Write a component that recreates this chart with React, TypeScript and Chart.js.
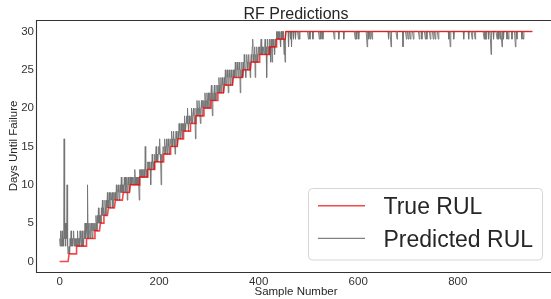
import React, { useEffect, useRef } from "react";
import { Chart, registerables } from "chart.js";

Chart.register(...registerables);

const titleText = "RF Predictions";
const xLabel = "Sample Number";
const yLabel = "Days Until Failure";
const legendLabels = ["True RUL", "Predicted RUL"];
const xTickValues = [0, 200, 400, 600, 800];
const yTickValues = [0, 5, 10, 15, 20, 25, 30];

// number of samples for each true RUL value 0..30 (sorted by RUL)
const trueRulCounts = [19, 15, 20, 17, 11, 7, 9, 14, 16, 14, 19, 16, 14, 18, 14, 15, 11, 14, 11, 16, 14, 14, 13, 18, 20, 16, 17, 20, 14, 19, 496];

// predicted RUL for the rising part, grouped by true RUL value
const predictedRising: number[][] = [
  [3, 2, 4, 2, 3, 4, 2, 3, 2, 16, 3, 5, 2, 5, 3, 10, 2, 1, 1],
  [2, 1, 3, 2, 4, 2, 3, 2, 3, 4, 2, 3, 2, 3, 2],
  [3, 2, 4, 2, 3, 3, 2, 4, 3, 2, 3, 4, 2, 3, 2, 4, 3, 5, 3, 5],
  [4, 3, 10, 4, 5, 3, 4, 5, 3, 4, 5, 4, 3, 5, 4, 5, 4],
  [5, 4, 6, 5, 4, 6, 5, 7, 5, 6, 5],
  [6, 5, 7, 6, 8, 6, 7],
  [7, 6, 8, 7, 6, 8, 7, 9, 7],
  [8, 7, 9, 8, 7, 9, 8, 8, 9, 7, 8, 9, 8, 9],
  [9, 8, 10, 9, 8, 9, 10, 9, 8, 9, 10, 9, 11, 9, 10, 9],
  [10, 9, 11, 10, 11, 9, 10, 11, 8, 10, 11, 10, 9, 11],
  [11, 10, 11, 10, 11, 11, 10, 11, 10, 12, 11, 10, 11, 10, 11, 10, 11, 10, 8],
  [12, 11, 12, 11, 12, 11, 12, 11, 12, 12, 11, 15, 12, 11, 12, 11],
  [13, 12, 13, 12, 13, 12, 10, 13, 12, 14, 13, 12, 13, 12],
  [14, 13, 14, 15, 13, 14, 13, 14, 15, 14, 16, 14, 13, 10, 14, 13, 14, 15],
  [15, 14, 16, 15, 14, 15, 16, 14, 15, 16, 15, 14, 15, 16],
  [16, 15, 17, 16, 15, 16, 17, 15, 16, 14, 16, 17, 16, 15, 16],
  [17, 16, 18, 17, 16, 17, 18, 17, 16, 18, 17],
  [18, 17, 19, 18, 17, 18, 19, 18, 20, 18, 17, 19, 18, 19],
  [19, 18, 20, 19, 18, 19, 20, 19, 18, 19, 16],
  [20, 19, 21, 20, 19, 20, 21, 20, 19, 18, 20, 21, 20, 19, 21, 20],
  [21, 20, 22, 21, 20, 21, 22, 21, 20, 22, 21, 20, 22, 21],
  [22, 23, 21, 19, 22, 21, 22, 23, 21, 22, 21, 22, 23, 22],
  [23, 22, 24, 23, 22, 23, 24, 22, 23, 24, 23, 22, 23],
  [24, 23, 25, 24, 23, 24, 25, 24, 22, 24, 25, 24, 23, 24, 25, 24, 23, 24],
  [25, 24, 25, 24, 26, 25, 24, 25, 26, 25, 24, 25, 26, 25, 22, 25, 24, 26, 25, 24],
  [26, 25, 27, 26, 25, 24, 26, 27, 26, 25, 26, 27, 25, 26, 24, 26],
  [27, 26, 28, 29, 27, 26, 27, 28, 24, 27, 26, 28, 27, 26, 27, 28, 27],
  [28, 27, 28, 29, 27, 28, 27, 28, 28, 27, 28, 29, 27, 28, 24, 28, 29, 27, 28, 27],
  [29, 28, 26, 29, 28, 26, 29, 28, 29, 28, 27, 29, 28, 29],
  [30, 29, 30, 29, 30, 29, 30, 29, 28, 30, 29, 30, 29, 30, 29, 27, 29, 26, 30],
];

// plateau: predictions stay at 30 except these [sample, value] dips
const plateauValue = 30;
const plateauDips: [number, number][] = [
  [460, 28], [464, 29], [466, 28], [470, 29], [474, 29], [480, 29], [482, 29],
  [500, 29], [503, 29], [509, 29], [522, 29], [525, 29], [529, 29], [552, 29],
  [561, 29], [571, 29], [594, 29], [597, 29], [601, 29], [618, 28], [621, 29],
  [624, 29], [628, 29], [661, 29], [666, 28], [678, 29], [690, 28], [697, 29],
  [701, 29], [705, 29], [711, 29], [723, 29], [728, 29], [735, 29], [738, 29],
  [745, 29], [751, 29], [755, 29], [761, 29], [782, 29], [785, 28], [792, 29],
  [812, 29], [822, 29], [829, 29], [835, 29], [853, 29], [855, 29], [857, 29],
  [862, 29], [867, 27], [872, 29], [879, 29], [882, 29], [885, 29], [889, 28],
  [892, 29], [899, 29], [902, 29], [909, 29], [916, 28], [919, 29], [929, 29],
  [932, 29],
];

const trueRUL: number[] = trueRulCounts.flatMap((c, v) => Array(c).fill(v));
const risingFlat = predictedRising.flat();
const predicted: number[] = trueRUL.map((_, i) => (i < risingFlat.length ? risingFlat[i] : plateauValue));
for (const [i, v] of plateauDips) predicted[i] = v;

const N = trueRUL.length;
const xMargin = (N - 1) * 0.05;

const FONT = "'Liberation Sans', Arial, sans-serif";
const TEXT = "#262626";
const RED = "rgba(240,0,0,0.72)";
const GRAY = "rgba(115,115,115,0.9)";

const decorPlugin = {
  id: "decor",
  afterDraw(chart: any) {
    const { ctx, chartArea: a } = chart;
    ctx.save();
    // frame (spines)
    ctx.strokeStyle = "#333333";
    ctx.lineWidth = 1.1;
    ctx.beginPath();
    ctx.moveTo(a.right + 2, a.top + 0.5);
    ctx.lineTo(a.left + 0.5, a.top + 0.5);
    ctx.lineTo(a.left + 0.5, a.bottom - 0.5);
    ctx.lineTo(a.right + 2, a.bottom - 0.5);
    ctx.stroke();

    // title
    ctx.fillStyle = TEXT;
    ctx.textAlign = "center";
    ctx.textBaseline = "alphabetic";
    ctx.font = `16px ${FONT}`;
    ctx.fillText(titleText, 296, 18.5);

    // axis labels
    ctx.font = `11.5px ${FONT}`;
    ctx.fillText(xLabel, 296, 295);
    ctx.save();
    ctx.translate(17, 146);
    ctx.rotate(-Math.PI / 2);
    ctx.fillText(yLabel, 0, 0);
    ctx.restore();

    // legend
    const lx = 308.5, ly = 188.5, lw = 234, lh = 71.5, r = 4;
    ctx.beginPath();
    ctx.moveTo(lx + r, ly);
    ctx.lineTo(lx + lw - r, ly);
    ctx.quadraticCurveTo(lx + lw, ly, lx + lw, ly + r);
    ctx.lineTo(lx + lw, ly + lh - r);
    ctx.quadraticCurveTo(lx + lw, ly + lh, lx + lw - r, ly + lh);
    ctx.lineTo(lx + r, ly + lh);
    ctx.quadraticCurveTo(lx, ly + lh, lx, ly + lh - r);
    ctx.lineTo(lx, ly + r);
    ctx.quadraticCurveTo(lx, ly, lx + r, ly);
    ctx.closePath();
    ctx.fillStyle = "rgba(255,255,255,0.8)";
    ctx.fill();
    ctx.strokeStyle = "#d6d6d6";
    ctx.lineWidth = 1;
    ctx.stroke();

    const rows = [
      { y: 205.7, color: RED, width: 1.6 },
      { y: 238.3, color: GRAY, width: 1.2 },
    ];
    rows.forEach((row, i) => {
      ctx.strokeStyle = row.color;
      ctx.lineWidth = row.width;
      ctx.beginPath();
      ctx.moveTo(318, row.y);
      ctx.lineTo(365, row.y);
      ctx.stroke();
      ctx.fillStyle = TEXT;
      ctx.textAlign = "left";
      ctx.textBaseline = "alphabetic";
      ctx.font = `23px ${FONT}`;
      ctx.fillText(legendLabels[i], 383.5, row.y + 8.2);
    });
    ctx.restore();
  },
};

export default function App() {
  const canvasRef = useRef<HTMLCanvasElement | null>(null);

  useEffect(() => {
    document.body.style.margin = "0";
    const canvas = canvasRef.current;
    if (!canvas) return;
    const chart = new Chart(canvas, {
      type: "line",
      data: {
        datasets: [
          {
            label: legendLabels[0],
            data: trueRUL.map((v, i) => ({ x: i, y: v })),
            borderColor: RED,
            borderWidth: 1.6,
            pointRadius: 0,
            tension: 0,
            order: 0,
          },
          {
            label: legendLabels[1],
            data: predicted.map((v, i) => ({ x: i, y: v })),
            borderColor: GRAY,
            borderWidth: 1,
            pointRadius: 0,
            tension: 0,
            order: 1,
          },
        ],
      },
      options: {
        animation: false,
        responsive: false,
        events: [],
        layout: { padding: { top: 20, left: 0, right: 0, bottom: 0 } },
        plugins: { legend: { display: false }, tooltip: { enabled: false }, title: { display: false } },
        scales: {
          x: {
            type: "linear",
            min: -xMargin,
            max: N - 1 + xMargin,
            grid: { display: false, drawTicks: false },
            border: { display: false },
            afterBuildTicks: (s: any) => {
              s.ticks = xTickValues.map((v) => ({ value: v }));
            },
            afterFit: (s: any) => {
              s.height = 26;
            },
            ticks: {
              autoSkip: false,
              maxRotation: 0,
              padding: 2,
              color: "#333333",
              font: { family: FONT, size: 11.5 },
              callback: (v: any) => String(v),
            },
          },
          y: {
            type: "linear",
            min: -1.5,
            max: 31.5,
            grid: { display: false, drawTicks: false },
            border: { display: false },
            afterBuildTicks: (s: any) => {
              s.ticks = yTickValues.map((v) => ({ value: v }));
            },
            afterFit: (s: any) => {
              s.width = 36;
            },
            ticks: {
              autoSkip: false,
              padding: 2,
              color: "#333333",
              font: { family: FONT, size: 11.5 },
              callback: (v: any) => String(v),
            },
          },
        },
      },
      plugins: [decorPlugin],
    });
    return () => chart.destroy();
  }, []);

  return (
    <div style={{ position: "fixed", left: 0, top: 0, width: 551, height: 299, overflow: "hidden", background: "#fff" }}>
      <canvas ref={canvasRef} width={556} height={299} style={{ width: 556, height: 299, display: "block" }} />
    </div>
  );
}
